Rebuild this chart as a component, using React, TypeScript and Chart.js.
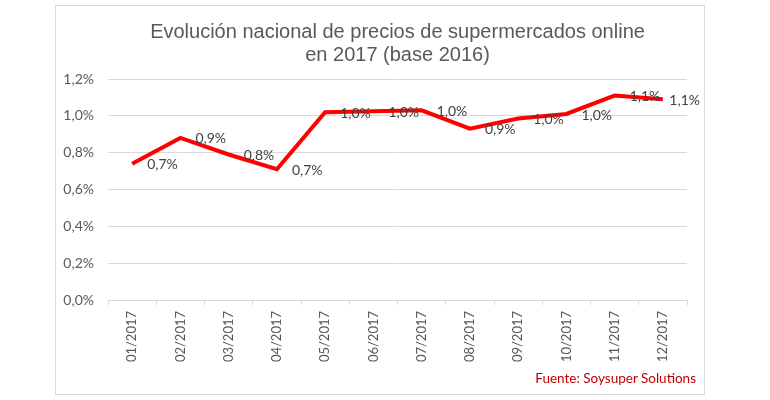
import React, { useEffect, useRef } from "react";
import { Chart, registerables } from "chart.js";

Chart.register(...registerables);

const categories = [
  "01/2017", "02/2017", "03/2017", "04/2017", "05/2017", "06/2017",
  "07/2017", "08/2017", "09/2017", "10/2017", "11/2017", "12/2017",
];
const values = [0.74, 0.88, 0.79, 0.71, 1.02, 1.025, 1.03, 0.93, 0.985, 1.01, 1.11, 1.09];
const yMin = 0;
const yMax = 1.2;
const yStep = 0.2;
const titleLines = ["Evolución nacional de precios de supermercados online", "en 2017 (base 2016)"];
const sourceText = "Fuente: Soysuper Solutions";

const fmt = (v: number) => v.toFixed(1).replace(".", ",") + "%";

const labelFont = "14px Lato";

const dataLabelsPlugin = {
  id: "dataLabels",
  afterDatasetsDraw(chart: any) {
    const ctx = chart.ctx;
    const meta = chart.getDatasetMeta(0);
    ctx.save();
    ctx.font = labelFont;
    ctx.fillStyle = "#404040";
    ctx.textAlign = "left";
    ctx.textBaseline = "middle";
    meta.data.forEach((pt: any, i: number) => {
      const text = fmt(values[i]);
      const w = ctx.measureText(text).width;
      let x = pt.x + 15;
      if (x + w > 700) x = 700 - w;
      ctx.fillText(text, x, pt.y + 1);
    });
    ctx.restore();
  },
};

export default function App() {
  const ref = useRef<HTMLCanvasElement | null>(null);

  useEffect(() => {
    if (!ref.current) return;
    const chart = new Chart(ref.current, {
      type: "line",
      data: {
        labels: categories,
        datasets: [
          {
            data: values,
            borderColor: "#FF0000",
            backgroundColor: "#FF0000",
            borderWidth: 4,
            pointRadius: 0,
            pointHoverRadius: 0,
            tension: 0,
            fill: false,
          },
        ],
      },
      options: {
        responsive: false,
        animation: false,
        layout: { padding: { left: 55, right: 83, top: 21, bottom: 30 } },
        plugins: {
          legend: { display: false },
          tooltip: { enabled: false },
          title: {
            display: true,
            text: titleLines,
            fullSize: false,
            color: "#595959",
            font: { family: "Liberation Sans", size: 20, weight: "normal", lineHeight: 1.15 },
            padding: { top: 0, bottom: 12 },
          },
        },
        scales: {
          x: {
            type: "category",
            offset: true,
            grid: {
              offset: true,
              drawOnChartArea: false,
              drawTicks: true,
              tickLength: 5,
              color: "#d9d9d9",
            },
            border: { display: true, color: "#d9d9d9", width: 1 },
            ticks: {
              autoSkip: false,
              minRotation: 90,
              maxRotation: 90,
              padding: 6,
              color: "#595959",
              font: { family: "Lato", size: 13 },
            },
            afterFit: (scale: any) => {
              scale.height = 70;
            },
          },
          y: {
            min: yMin,
            max: yMax,
            grid: { color: "#d9d9d9", drawTicks: false, lineWidth: 1 },
            border: { display: false },
            ticks: {
              stepSize: yStep,
              padding: 14,
              color: "#595959",
              font: { family: "Lato", size: 14 },
              callback: (v: any) => fmt(Number(v)),
            },
            afterFit: (scale: any) => {
              scale.width = 53;
            },
          },
        },
      },
      plugins: [dataLabelsPlugin],
    });
    return () => chart.destroy();
  }, []);

  return (
    <div style={{ position: "absolute", left: 0, top: 0, width: 770, height: 400, background: "#fff" }}>
      <div
        style={{
          position: "absolute",
          left: 55,
          top: 5,
          width: 650,
          height: 390,
          border: "1.5px solid #d9d9d9",
          boxSizing: "border-box",
        }}
      />
      <canvas ref={ref} width={770} height={400} style={{ position: "absolute", left: 0, top: 0 }} />
      <div
        style={{
          position: "absolute",
          right: 74,
          top: 369,
          fontFamily: "Lato",
          fontSize: 13.5,
          color: "#C00000",
          lineHeight: "18px",
          whiteSpace: "nowrap",
        }}
      >
        {sourceText}
      </div>
    </div>
  );
}
